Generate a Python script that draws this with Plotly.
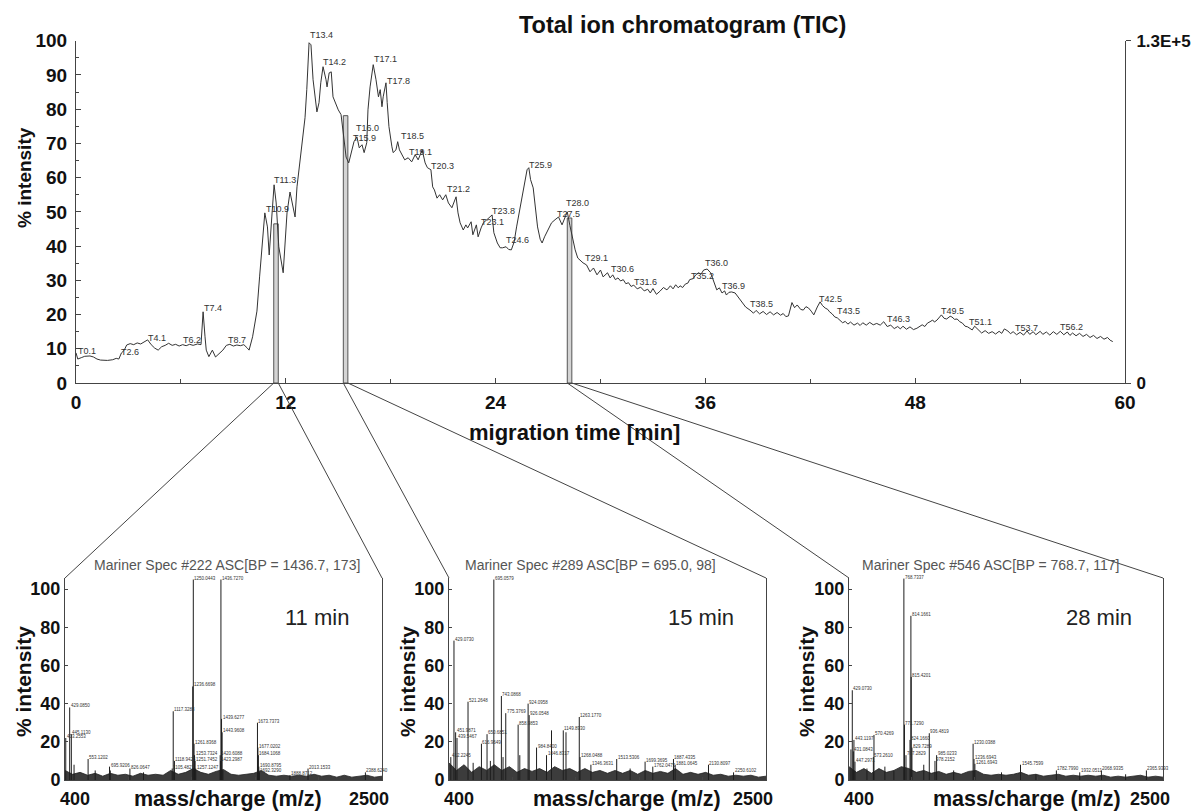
import plotly.graph_objects as go

# The page body adds an 8px margin, so the figure is made 8px smaller and all
# layout positions (measured on the 1202x811 screenshot) are shifted by 8px.
PAGE_OFF = 8
FIG_W, FIG_H = 1202 - PAGE_OFF, 811 - PAGE_OFF

# ---------------- TIC data (migration time [min], % intensity) ----------------
TIC_TIME = [
    0.0, 0.1, 0.3, 0.5, 0.8, 1.0, 1.2, 1.4, 1.8, 2.1, 2.3, 2.45, 2.6,
    2.75, 2.9, 3.1, 3.3, 3.5, 3.7, 3.9, 4.1, 4.3, 4.5, 4.7, 4.9, 5.1,
    5.3, 5.5, 5.7, 5.9, 6.1, 6.3, 6.5, 6.7, 6.95, 7.15, 7.27, 7.38, 7.45,
    7.6, 7.8, 7.98, 8.2, 8.4, 8.6, 8.8, 9.0, 9.2, 9.4, 9.6, 9.8, 9.9,
    10.1, 10.35, 10.5, 10.7, 10.8, 10.95, 11.05, 11.2, 11.33, 11.45, 11.5, 11.6, 11.85,
    11.95, 12.07, 12.24, 12.35, 12.53, 12.64, 12.8, 12.97, 13.1, 13.2, 13.33, 13.44, 13.56,
    13.78, 13.9, 14.0, 14.13, 14.3, 14.36, 14.48, 14.6, 14.7, 14.87, 15.0, 15.16, 15.3,
    15.45, 15.6, 15.8, 15.9, 16.07, 16.2, 16.36, 16.48, 16.63, 16.7, 16.82, 17.0, 17.16,
    17.3, 17.4, 17.5, 17.57, 17.73, 17.8, 17.9, 18.07, 18.14, 18.3, 18.4, 18.5, 18.7,
    18.8, 19.0, 19.2, 19.4, 19.57, 19.8, 19.97, 20.1, 20.3, 20.4, 20.5, 20.65, 20.8,
    20.97, 21.15, 21.3, 21.5, 21.74, 21.85, 21.97, 22.15, 22.3, 22.4, 22.6, 22.7, 22.9,
    23.0, 23.17, 23.3, 23.5, 23.7, 23.8, 23.9, 24.1, 24.26, 24.4, 24.6, 24.75, 24.9,
    25.06, 25.2, 25.4, 25.6, 25.8, 25.9, 26.0, 26.15, 26.26, 26.4, 26.55, 26.66, 26.8,
    27.0, 27.2, 27.4, 27.6, 27.8, 27.97, 28.1, 28.25, 28.4, 28.55, 28.7, 29.0, 29.2,
    29.4, 29.6, 29.8, 30.0, 30.15, 30.4, 30.55, 30.7, 30.85, 31.0, 31.15, 31.3, 31.45,
    31.6, 31.75, 31.9, 32.1, 32.3, 32.5, 32.7, 32.85, 33.0, 33.2, 33.4, 33.6, 33.8,
    34.0, 34.15, 34.3, 34.45, 34.55, 34.7, 34.85, 35.0, 35.1, 35.3, 35.45, 35.6, 35.75,
    35.9, 36.1, 36.3, 36.45, 36.65, 36.8, 36.95, 37.1, 37.2, 37.35, 37.5, 37.7, 37.85,
    38.0, 38.15, 38.3, 38.55, 38.75, 38.9, 39.1, 39.3, 39.5, 39.7, 39.9, 40.1, 40.3,
    40.45, 40.6, 40.75, 40.95, 41.1, 41.25, 41.45, 41.6, 41.75, 41.9, 42.05, 42.2, 42.4,
    42.56, 42.7, 42.85, 43.0, 43.1, 43.25, 43.4, 43.55, 43.7, 43.85, 44.0, 44.15, 44.3,
    44.5, 44.7, 44.85, 45.0, 45.2, 45.4, 45.6, 45.8, 46.0, 46.2, 46.4, 46.6, 46.8,
    47.0, 47.15, 47.3, 47.5, 47.7, 47.9, 48.1, 48.25, 48.4, 48.55, 48.7, 48.85, 49.0,
    49.1, 49.25, 49.5, 49.65, 49.8, 50.0, 50.1, 50.25, 50.4, 50.55, 50.7, 50.85, 51.0,
    51.15, 51.26, 51.4, 51.5, 51.65, 51.8, 52.0, 52.2, 52.4, 52.6, 52.8, 52.95, 53.1,
    53.3, 53.45, 53.6, 53.8, 54.0, 54.2, 54.4, 54.55, 54.75, 54.9, 55.15, 55.3, 55.5,
    55.7, 55.9, 56.1, 56.3, 56.5, 56.7, 56.85, 57.0, 57.2, 57.4, 57.6, 57.8, 58.0,
    58.2, 58.4, 58.6, 58.8, 59.0, 59.15, 59.3,
]
TIC_PCT = [
    8.8, 7.0, 7.4, 7.8, 7.9, 7.6, 7.0, 6.7, 6.6, 6.8, 7.2, 7.0, 8.8,
    9.5, 11.1, 11.5, 11.2, 11.7, 11.4, 11.9, 12.6, 11.2, 10.2, 9.6, 10.6, 11.0,
    11.6, 11.0, 11.3, 10.8, 11.2, 10.9, 11.3, 11.0, 11.4, 11.2, 20.8, 13.5, 9.6,
    7.7, 9.6, 7.6, 8.5, 9.6, 11.0, 11.3, 10.8, 11.1, 10.9, 11.2, 10.2, 9.6,
    13.5, 21.0, 31.0, 44.7, 49.7, 45.6, 37.4, 48.5, 57.9, 52.6, 46.8, 39.8, 32.2,
    39.8, 49.7, 55.8, 52.6, 48.5, 57.3, 64.3, 71.0, 77.5, 85.7, 99.4, 98.8, 88.6,
    79.2, 81.9, 87.7, 92.4, 88.6, 86.5, 90.6, 90.9, 83.6, 81.3, 79.8, 78.4, 72.0,
    66.0, 64.3, 68.1, 70.5, 71.9, 68.7, 69.6, 67.3, 70.2, 79.8, 86.5, 93.0, 88.6,
    83.6, 85.7, 80.7, 83.6, 87.7, 81.9, 74.9, 69.0, 67.3, 68.1, 70.5, 68.1, 66.1,
    65.2, 65.8, 64.6, 66.7, 65.2, 68.1, 64.3, 62.9, 62.3, 57.3, 56.4, 54.0, 55.0,
    53.5, 55.0, 52.6, 51.2, 54.4, 49.7, 46.8, 44.7, 46.2, 45.3, 47.1, 43.3, 46.2,
    42.7, 45.3, 46.8, 47.7, 48.5, 49.1, 43.9, 40.9, 39.5, 39.5, 39.8, 39.0, 38.9,
    41.2, 45.6, 51.5, 56.4, 62.3, 62.9, 59.4, 57.0, 51.5, 45.6, 42.0, 40.9, 42.7,
    44.7, 46.8, 47.7, 48.5, 46.2, 48.2, 50.0, 46.0, 42.4, 38.9, 36.5, 35.1, 34.5,
    32.5, 33.6, 31.6, 33.0, 31.0, 32.2, 30.7, 31.6, 30.2, 30.7, 29.8, 30.2, 29.0,
    29.3, 28.2, 28.6, 27.5, 28.0, 26.9, 27.4, 26.3, 27.6, 25.9, 26.8, 27.9, 27.2,
    28.4, 27.5, 28.7, 27.8, 28.4, 27.9, 28.9, 29.2, 30.2, 30.5, 31.6, 32.2, 31.8,
    33.0, 33.3, 32.2, 30.1, 27.2, 27.8, 26.3, 26.9, 25.7, 26.5, 26.6, 26.3, 25.2,
    24.3, 23.0, 22.2, 21.3, 20.4, 21.2, 20.2, 20.9, 20.0, 20.8, 19.9, 20.6, 19.8,
    20.3, 19.4, 19.6, 23.5, 22.0, 22.8, 21.5, 21.3, 22.3, 21.9, 21.0, 19.9, 22.2,
    23.7, 22.6, 21.9, 21.5, 20.8, 20.2, 19.3, 19.0, 18.4, 17.6, 18.0, 17.2, 17.8,
    16.9, 17.5, 16.8, 17.6, 16.9, 17.7, 17.0, 17.4, 16.9, 17.9, 16.5, 16.9, 15.9,
    16.5, 15.8, 16.6, 15.7, 16.4, 15.6, 16.0, 16.6, 17.0, 16.5, 17.5, 17.9, 18.4,
    17.8, 18.4, 19.9, 18.9, 18.7, 19.5, 19.3, 18.6, 18.7, 17.9, 17.5, 16.6, 16.4,
    15.9, 15.5, 16.6, 16.1, 15.1, 14.6, 15.3, 14.5, 15.0, 14.3, 15.1, 14.5, 15.8,
    15.2, 14.4, 15.0, 14.1, 14.8, 14.0, 15.2, 14.2, 15.0, 14.1, 15.1, 14.2, 14.9,
    14.0, 15.0, 14.2, 15.1, 14.1, 14.9, 13.9, 14.6, 13.8, 14.5, 13.6, 14.2, 13.3,
    13.9, 13.0, 13.6, 12.8, 13.3, 12.5, 12.1,
]
assert len(TIC_TIME) == len(TIC_PCT)

PEAK_LABELS = ["T0.1", "T2.6", "T4.1", "T6.2", "T7.4", "T8.7", "T10.9", "T11.3", "T13.4", "T14.2",
               "T16.0", "T15.9", "T17.1", "T17.8", "T18.5", "T19.1", "T20.3", "T21.2", "T23.8", "T23.1",
               "T24.6", "T25.9", "T28.0", "T27.5", "T29.1", "T30.6", "T31.6", "T35.2", "T36.0", "T36.9",
               "T38.5", "T42.5", "T43.5", "T46.3", "T49.5", "T51.1", "T53.7", "T56.2"]
PEAK_LABEL_T = [0.1, 2.57, 4.12, 6.12, 7.32, 8.7, 10.87, 11.33, 13.39, 14.13,
                16.0, 15.85, 17.05, 17.8, 18.6, 19.05, 20.3, 21.2, 23.8, 23.17,
                24.6, 25.9, 28.03, 27.5, 29.1, 30.6, 31.9, 35.2, 36.0, 36.96,
                38.56, 42.5, 43.5, 46.4, 49.5, 51.1, 53.7, 56.3]
PEAK_LABEL_Y = [9.4, 9.1, 13.2, 12.6, 21.9, 12.6, 50.9, 59.4, 101.8, 93.9,
                74.6, 71.6, 94.7, 88.3, 72.2, 67.5, 63.5, 56.7, 50.3, 47.1,
                41.8, 63.7, 52.6, 49.4, 36.5, 33.3, 29.5, 31.3, 35.1, 28.4,
                23.1, 24.6, 21.1, 18.7, 21.1, 17.8, 16.1, 16.4]

TIME_TICKS = [0, 12, 24, 36, 48, 60]
TIME_MINOR = [6, 18, 30, 42, 54]
PCT_MAIN_TICKS = [0, 10, 20, 30, 40, 50, 60, 70, 80, 90, 100]
RIGHT_TICKS = [0, 130000]
RIGHT_TICK_TEXT = ["0", "1.3E+5"]

# spectrum markers on the TIC
SPEC_BAR_T = [11.44, 15.42, 28.23]
SPEC_BAR_H = [46.5, 78.1, 48.2]
SPEC_BAR_W = 0.26
SPEC_TIME_TEXT = ["11 min", "15 min", "28 min"]
SPEC_TITLES = ["Mariner Spec #222 ASC[BP = 1436.7, 173]",
               "Mariner Spec #289 ASC[BP = 695.0, 98]",
               "Mariner Spec #546 ASC[BP = 768.7, 117]"]

# ---------------- mass spectra ----------------
MZ_RANGE = [400, 2500]
MZ_TICKS = [400, 820, 1240, 1660, 2080, 2500]
MZ_TICK_TEXT = ["400", "2500"]
SPEC_PCT_TICKS = [0, 20, 40, 60, 80, 100]
SPEC_YMAX = 105.8

NOISE_MZ = [400, 450, 500, 550, 600, 650, 700, 750, 800, 850, 900, 950, 1000, 1050,
            1100, 1150, 1200, 1250, 1300, 1350, 1400, 1450, 1500, 1550, 1600, 1650, 1700,
            1750, 1800, 1850, 1900, 1950, 2000, 2050, 2100, 2150, 2200, 2250, 2300, 2350,
            2400, 2450, 2500]
S1_NOISE = [5, 3, 4, 2.5, 3.5, 2, 3.5, 2.5, 3, 2, 3.5, 2.5, 3, 2.5,
            5, 3, 4, 6, 4, 3, 4.5, 5.5, 3, 2.5, 3, 3.5, 5,
            2.5, 2, 2.5, 2, 2.5, 2, 3, 2, 2.5, 1.5, 2.5, 1.5, 2,
            2.5, 1.5, 2]
S2_NOISE = [9, 5, 8, 4, 7, 5, 8, 5, 7, 4, 6, 4.5, 6, 4,
            7, 5, 6, 4, 6, 4, 5, 3.5, 5, 3.5, 5, 3, 5,
            3.5, 4.5, 3.5, 6, 3, 4, 3, 4, 2.5, 3, 2, 2.5, 2,
            2.5, 1.5, 2]
S3_NOISE = [7, 4, 6, 3.5, 6, 4, 5, 7, 6, 4, 5, 3.5, 4.5, 3,
            4, 3, 4.5, 5, 3, 2.5, 3, 2.5, 3, 4, 2.5, 3, 2,
            2.5, 3, 2, 2.5, 2, 2.5, 2, 2.5, 1.5, 2, 1.5, 2, 2.5,
            1.5, 2, 1.5]

S1_MZ = [405, 431, 442, 460, 553, 600, 695, 700, 830, 920,
         1110, 1117, 1125, 1246, 1250, 1255, 1258, 1262, 1266,
         1428, 1430, 1433, 1437, 1441, 1446,
         1675, 1678, 1681, 1684, 1688,
         1890, 2010, 2390]
S1_INT = [22, 38, 24, 8, 11, 5, 7, 5, 6, 4,
          6, 36, 10, 49, 105, 19, 13, 10, 6,
          13, 10, 105, 32, 25, 5,
          30, 17, 13, 7, 4,
          2.5, 6, 4]
S1_LBL = ["403.2553", "429.0850", "445.1130", "", "553.1202", "", "695.9206", "", "826.0647", "",
          "1105.4827", "1117.3288", "1118.9425", "1236.6698", "1250.0443", "1261.8368", "1253.7324", "1251.7452", "1257.1247",
          "1420.6088", "1423.2987", "1436.7270", "1439.6277", "1443.9608", "",
          "1673.7373", "1677.0202", "1684.1068", "1690.8795", "1692.3290",
          "1888.8712", "2013.1533", "2388.6240"]

S2_MZ = [412, 433, 444, 453, 526, 560, 615, 652, 674, 697,
         747, 758, 776, 858, 869, 924, 931, 980, 1046, 1079,
         1157, 1175, 1263, 1268, 1340, 1511, 1600, 1699, 1750, 1887,
         1898, 2119, 2285]
S2_INT = [12, 73, 25, 22, 41, 9, 19, 24, 10, 105,
          44, 12, 35, 29, 13, 40, 34, 17, 13, 26,
          26, 25, 33, 12, 8, 11, 6, 9.6, 7, 11,
          8, 8, 4]
S2_LBL = ["412.2245", "429.0730", "451.9871", "439.5467", "521.2648", "", "616.9649", "650.6851", "", "695.0579",
          "743.0868", "", "775.3769", "858.9853", "", "924.0958", "926.0548", "984.8400", "1046.8317", "",
          "1149.8930", "", "1263.1770", "1268.0488", "1346.3631", "1513.5306", "", "1699.3695", "1762.0475", "1887.4335",
          "1881.0645", "2130.8097", "2250.6102"]

S3_MZ = [413, 422, 429, 433, 440, 520, 563, 567, 640, 700,
         767, 771, 781, 808, 814, 816, 821, 900, 937, 975,
         986, 1100, 1230, 1236, 1242, 1420, 1547, 1650, 1787, 1943,
         2088, 2250, 2389]
S3_INT = [16, 47, 15, 21, 9.6, 6, 12, 23.6, 7, 5,
          105.5, 29, 13, 21, 86, 54, 17, 8, 24.5, 10,
          13, 5, 19, 11, 8.5, 4, 8, 3, 5, 4,
          5, 3, 5]
S3_LBL = ["", "429.0730", "431.0843", "443.1197", "447.2971", "", "573.2610", "570.4269", "", "",
          "768.7337", "771.7290", "787.2829", "824.1660", "814.1661", "815.4201", "829.7289", "", "936.4819", "978.2152",
          "985.0233", "", "1230.0388", "1236.6943", "1261.6943", "", "1545.7599", "", "1782.7990", "1932.0511",
          "2068.9335", "", "2365.9393"]

SPECTRA = [
    dict(mz=S1_MZ, inten=S1_INT, lbl=S1_LBL, noise=S1_NOISE),
    dict(mz=S2_MZ, inten=S2_INT, lbl=S2_LBL, noise=S2_NOISE),
    dict(mz=S3_MZ, inten=S3_INT, lbl=S3_LBL, noise=S3_NOISE),
]

# ---------------- layout geometry (screen pixels) ----------------
MAIN_L, MAIN_R, MAIN_T, MAIN_B = 76, 1125, 40.7, 383
SPEC_LR = [(65, 382), (449, 766), (849, 1163)]
SPEC_T, SPEC_B = 578, 780
SPEC_TITLE_CX = [227, 590, 990]
SPEC_XTITLE_CX = [228, 627, 1027]
SPEC_YTITLE_CX = [23, 407, 806]
PX_PER_PCT = (MAIN_B - MAIN_T) / 100.0


def pxx(x):
    return (x - PAGE_OFF) / FIG_W


def pxy(y):
    return 1 - (y - PAGE_OFF) / FIG_H


FONT = "Liberation Sans, Arial, sans-serif"
INK = "#2a2a2a"
AXC = "#444444"

fig = go.Figure()

# TIC trace
fig.add_trace(go.Scatter(x=TIC_TIME, y=TIC_PCT, mode="lines",
                         line=dict(color="#333333", width=1), xaxis="x", yaxis="y",
                         hoverinfo="skip"))
# spectrum markers (bars)
fig.add_trace(go.Bar(x=SPEC_BAR_T, y=SPEC_BAR_H, width=SPEC_BAR_W,
                     marker=dict(color="#d4d4d4", line=dict(color="#555555", width=1)),
                     xaxis="x", yaxis="y", hoverinfo="skip"))
# invisible trace for the right axis
fig.add_trace(go.Scatter(x=[0], y=[0], mode="markers", marker=dict(opacity=0),
                         xaxis="x", yaxis="y5", hoverinfo="skip"))

annotations = []
for lbl, t, v in zip(PEAK_LABELS, PEAK_LABEL_T, PEAK_LABEL_Y):
    yy = min(v, 100.0)
    annotations.append(dict(x=t, y=yy, xref="x", yref="y", text=lbl, showarrow=False,
                            xanchor="left", yanchor="middle", xshift=-2,
                            yshift=(v - yy) * PX_PER_PCT,
                            font=dict(family=FONT, size=9, color="#333333")))

layout_axes = {}
layout_axes["xaxis"] = dict(domain=[pxx(MAIN_L), pxx(MAIN_R)], range=[0, 60], anchor="y",
                            tickvals=TIME_TICKS, ticks="inside", ticklen=5, tickcolor=AXC,
                            minor=dict(tickvals=TIME_MINOR, ticks="inside", ticklen=4, tickcolor=AXC),
                            showline=True, linecolor=AXC, linewidth=1, showgrid=False, zeroline=False,
                            tickfont=dict(family=FONT, size=19, color="#111", weight="bold"),
                            ticklabelstandoff=2, automargin=False)
layout_axes["yaxis"] = dict(domain=[pxy(MAIN_B), pxy(MAIN_T)], range=[0, 100], anchor="x",
                            tickvals=PCT_MAIN_TICKS, ticks="inside", ticklen=5, tickcolor=AXC,
                            minor=dict(dtick=5, ticks="inside", ticklen=3, tickcolor=AXC),
                            showline=True, linecolor=AXC, linewidth=1, showgrid=False, zeroline=False,
                            tickfont=dict(family=FONT, size=19, color="#111", weight="bold"),
                            ticklabelstandoff=4, automargin=False)
layout_axes["yaxis5"] = dict(overlaying="y", side="right", anchor="x", range=[0, RIGHT_TICKS[1]],
                             tickvals=RIGHT_TICKS, ticktext=RIGHT_TICK_TEXT, ticks="outside",
                             ticklen=5, tickcolor=AXC, showline=True, linecolor=AXC, linewidth=1,
                             showgrid=False, zeroline=False, automargin=False, ticklabelstandoff=2,
                             tickfont=dict(family=FONT, size=17, color="#111", weight="bold"))

shapes = []
main_x0, main_x1 = pxx(MAIN_L), pxx(MAIN_R)
main_y0 = pxy(MAIN_B)


def time_to_paper(t):
    return main_x0 + (t - 0) / 60.0 * (main_x1 - main_x0)


for i, spec in enumerate(SPECTRA):
    k = i + 2
    l, r = SPEC_LR[i]
    xa, ya = f"x{k}", f"y{k}"
    # noise band
    fig.add_trace(go.Scatter(x=NOISE_MZ, y=spec["noise"], mode="lines", fill="tozeroy",
                             line=dict(color="#222222", width=0.8), fillcolor="#3c3c3c",
                             xaxis=xa, yaxis=ya, hoverinfo="skip"))
    # sticks
    sx, sy = [], []
    for m, h in zip(spec["mz"], spec["inten"]):
        sx += [m, m, None]
        sy += [0, h, None]
    fig.add_trace(go.Scatter(x=sx, y=sy, mode="lines", line=dict(color="#1e1e1e", width=1),
                             xaxis=xa, yaxis=ya, hoverinfo="skip", connectgaps=False))
    for m, h, t in zip(spec["mz"], spec["inten"], spec["lbl"]):
        if t:
            annotations.append(dict(x=m, y=h, xref=xa, yref=ya, text=t, showarrow=False,
                                    xanchor="left", yanchor="bottom", xshift=-1, yshift=-3,
                                    font=dict(family=FONT, size=4.5, color="#333333")))
    layout_axes[f"xaxis{k}"] = dict(domain=[pxx(l), pxx(r)], range=MZ_RANGE, anchor=ya,
                                     tickvals=MZ_TICKS, ticks="inside", ticklen=3, tickcolor=AXC,
                                     showticklabels=False, showline=True, linecolor=AXC, linewidth=1,
                                     showgrid=False, zeroline=False, automargin=False)
    layout_axes[f"yaxis{k}"] = dict(domain=[pxy(SPEC_B), pxy(SPEC_T)], range=[0, SPEC_YMAX], anchor=xa,
                                     tickvals=SPEC_PCT_TICKS, ticks="inside", ticklen=3, tickcolor=AXC,
                                     showline=True, mirror=True, linecolor=AXC, linewidth=1,
                                     showgrid=False, zeroline=False, automargin=False,
                                     tickfont=dict(family=FONT, size=18, color="#111", weight="bold"),
                                     ticklabelstandoff=0)
    # texts
    annotations.append(dict(x=pxx(SPEC_TITLE_CX[i]), y=pxy(565), xref="paper", yref="paper",
                            text=SPEC_TITLES[i], showarrow=False,
                            xanchor="center", yanchor="middle",
                            font=dict(family=FONT, size=14, color="#555555")))
    annotations.append(dict(x=2070, y=85, xref=xa, yref=ya, text=SPEC_TIME_TEXT[i], showarrow=False,
                            xanchor="center", yanchor="middle",
                            font=dict(family=FONT, size=22, color="#222222")))
    annotations.append(dict(x=pxx(SPEC_YTITLE_CX[i]), y=pxy(682), xref="paper", yref="paper",
                            text="% intensity", textangle=-90, showarrow=False,
                            xanchor="center", yanchor="middle",
                            font=dict(family=FONT, size=21, color="#111", weight="bold")))
    annotations.append(dict(x=pxx(SPEC_XTITLE_CX[i]), y=pxy(799), xref="paper", yref="paper",
                            text="mass/charge (m/z)", showarrow=False, xanchor="center", yanchor="middle",
                            font=dict(family=FONT, size=21.5, color="#111", weight="bold")))
    annotations.append(dict(x=pxx(l + 10), y=pxy(799), xref="paper", yref="paper",
                            text=MZ_TICK_TEXT[0], showarrow=False, xanchor="center", yanchor="middle",
                            font=dict(family=FONT, size=18, color="#111", weight="bold")))
    annotations.append(dict(x=pxx(r - 13), y=pxy(799), xref="paper", yref="paper",
                            text=MZ_TICK_TEXT[1], showarrow=False, xanchor="center", yanchor="middle",
                            font=dict(family=FONT, size=18, color="#111", weight="bold")))
    # connecting lines from the TIC marker to the spectrum frame
    t0 = SPEC_BAR_T[i] - SPEC_BAR_W / 2
    t1 = SPEC_BAR_T[i] + SPEC_BAR_W / 2
    top = pxy(SPEC_T)
    shapes.append(dict(type="line", xref="paper", yref="paper", x0=time_to_paper(t0), y0=main_y0,
                       x1=pxx(l), y1=top, line=dict(color="#444444", width=1)))
    shapes.append(dict(type="line", xref="paper", yref="paper", x0=time_to_paper(t1), y0=main_y0,
                       x1=pxx(r), y1=top, line=dict(color="#444444", width=1)))

# main titles
annotations.append(dict(x=pxx(682), y=pxy(25), xref="paper", yref="paper",
                        text="Total ion chromatogram (TIC)", showarrow=False,
                        xanchor="center", yanchor="middle",
                        font=dict(family=FONT, size=23.5, color="#111", weight="bold")))
annotations.append(dict(x=pxx(574), y=pxy(432), xref="paper", yref="paper",
                        text="migration time [min]", showarrow=False,
                        xanchor="center", yanchor="middle",
                        font=dict(family=FONT, size=22, color="#111", weight="bold")))
annotations.append(dict(x=pxx(25), y=pxy(178), xref="paper", yref="paper",
                        text="% intensity", textangle=-90, showarrow=False,
                        xanchor="center", yanchor="middle",
                        font=dict(family=FONT, size=19, color="#111", weight="bold")))

fig.update_layout(
    template="none",
    width=FIG_W, height=FIG_H,
    margin=dict(l=0, r=0, t=0, b=0, pad=0),
    paper_bgcolor="white", plot_bgcolor="white",
    showlegend=False,
    font=dict(family=FONT, color=INK),
    annotations=annotations,
    shapes=shapes,
    **layout_axes,
)

fig.write_html("out.html")
